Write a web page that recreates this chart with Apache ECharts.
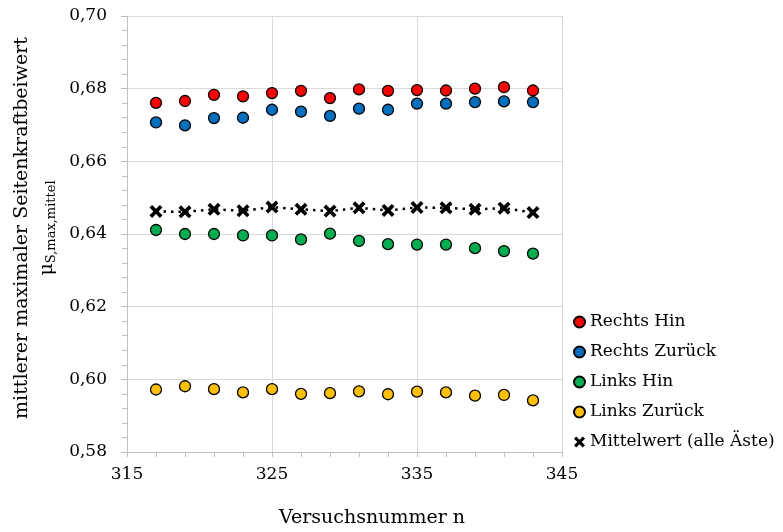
<!DOCTYPE html>
<html>
<head>
<meta charset="utf-8">
<script src="https://cdn.jsdelivr.net/npm/echarts@6/dist/echarts.min.js"></script>
<style>html,body{margin:0;padding:0;background:#fff}#c{width:783px;height:532px}</style>
</head>
<body>
<div id="c"></div>
<script>
const versuch = [317,319,321,323,325,327,329,331,333,335,337,339,341,343];
const rechtsHin    = [0.6761,0.6766,0.6783,0.6779,0.6788,0.6794,0.6774,0.6798,0.6794,0.6796,0.6795,0.6800,0.6804,0.6795];
const rechtsZurueck= [0.6707,0.6699,0.6719,0.6720,0.6742,0.6737,0.6725,0.6745,0.6742,0.6759,0.6759,0.6763,0.6765,0.6763];
const linksHin     = [0.6411,0.6400,0.6400,0.6396,0.6396,0.6385,0.6401,0.6381,0.6372,0.6371,0.6371,0.6361,0.6353,0.6346];
const linksZurueck = [0.5972,0.5981,0.5973,0.5964,0.5973,0.5960,0.5962,0.5967,0.5959,0.5966,0.5964,0.5955,0.5957,0.5942];
const mittelwert   = [0.6462,0.6461,0.6468,0.6464,0.6474,0.6468,0.6463,0.6472,0.6465,0.6473,0.6472,0.6468,0.6471,0.6459];
const seriesNames = ['Rechts Hin','Rechts Zurück','Links Hin','Links Zurück','Mittelwert (alle Äste)'];
const colors = ['#FF0000','#0070C0','#00B050','#FFC000'];
const xTicks = [315,325,335,345];
const yTicks = [0.58,0.60,0.62,0.64,0.66,0.68,0.70];

const FONT = 'DejaVu Serif';
const XSYM = 'path://M2,0 L5,3 L8,0 L10,2 L7,5 L10,8 L8,10 L5,7 L2,10 L0,8 L3,5 L0,2 Z';
const pair = (arr) => arr.map((v,i)=>[versuch[i], v]);

const chart = echarts.init(document.getElementById('c'), null, {renderer:'canvas'});
const scatterSeries = [rechtsHin, rechtsZurueck, linksHin, linksZurueck].map((arr,i)=>({
  name: seriesNames[i], type:'scatter', data: pair(arr), symbol:'circle', symbolSize:11,
  itemStyle:{color:colors[i], borderColor:'#000', borderWidth:1.3, opacity:1}, z:3
}));
chart.setOption({
  animation:false,
  backgroundColor:'#fff',
  grid:{left:127, right:221, top:16, bottom:80},
  xAxis:{type:'value', min:xTicks[0], max:xTicks[xTicks.length-1], interval:10,
    axisLine:{show:true, lineStyle:{color:'#BFBFBF', width:1}},
    axisTick:{show:true, length:5, lineStyle:{color:'#BFBFBF'}},
    minorTick:{show:true, splitNumber:5, length:5, lineStyle:{color:'#BFBFBF'}},
    splitLine:{show:true, lineStyle:{color:'#D9D9D9', width:1}},
    axisLabel:{fontFamily:FONT, fontSize:17, color:'#000', margin:14}
  },
  yAxis:{type:'value', min:yTicks[0], max:yTicks[yTicks.length-1], interval:0.02,
    axisLine:{show:true, lineStyle:{color:'#BFBFBF', width:1}},
    axisTick:{show:true, length:6, lineStyle:{color:'#BFBFBF'}},
    minorTick:{show:true, splitNumber:5, length:5, lineStyle:{color:'#BFBFBF'}},
    splitLine:{show:true, lineStyle:{color:'#D9D9D9', width:1}},
    axisLabel:{fontFamily:FONT, fontSize:17, color:'#000', margin:20,
      formatter:(v)=>v.toFixed(2).replace('.',',')}
  },
  legend:{orient:'vertical', left:568, top:307, itemGap:10, itemWidth:11, itemHeight:11,
    textStyle:{fontFamily:FONT, fontSize:17, color:'#000', lineHeight:20, padding:[0,0,0,0]},
    data:[
      {name:seriesNames[0], icon:'circle'},
      {name:seriesNames[1], icon:'circle'},
      {name:seriesNames[2], icon:'circle'},
      {name:seriesNames[3], icon:'circle'},
      {name:seriesNames[4], icon:XSYM, itemStyle:{color:'#000', borderWidth:0}}
    ]
  },
  series: scatterSeries.concat([{
    name: seriesNames[4], type:'line', data: pair(mittelwert),
    symbol: XSYM, symbolSize:13, showSymbol:true,
    itemStyle:{color:'#000', borderWidth:0},
    lineStyle:{color:'#000', width:2.5, type:[2.5,5]}, z:4
  }]),
  graphic:[
    {type:'text', rotation:Math.PI/2, x:22, y:228,
      style:{text:'mittlerer maximaler Seitenkraftbeiwert', font:'19px "'+FONT+'"', fill:'#000', align:'center', verticalAlign:'middle'}},
    {type:'text', rotation:Math.PI/2, x:47, y:228,
      style:{text:'{a|μ}{b|S,max,mittel}', rich:{a:{fontFamily:FONT, fontSize:19, fill:'#000'}, b:{fontFamily:FONT, fontSize:13, fill:'#000', padding:[9,0,0,0]}}, align:'center', verticalAlign:'middle'}},
    {type:'text', x:372, y:518,
      style:{text:'Versuchsnummer n', font:'19px "'+FONT+'"', fill:'#000', align:'center', verticalAlign:'middle'}}
  ]
});
</script>
</body>
</html>
